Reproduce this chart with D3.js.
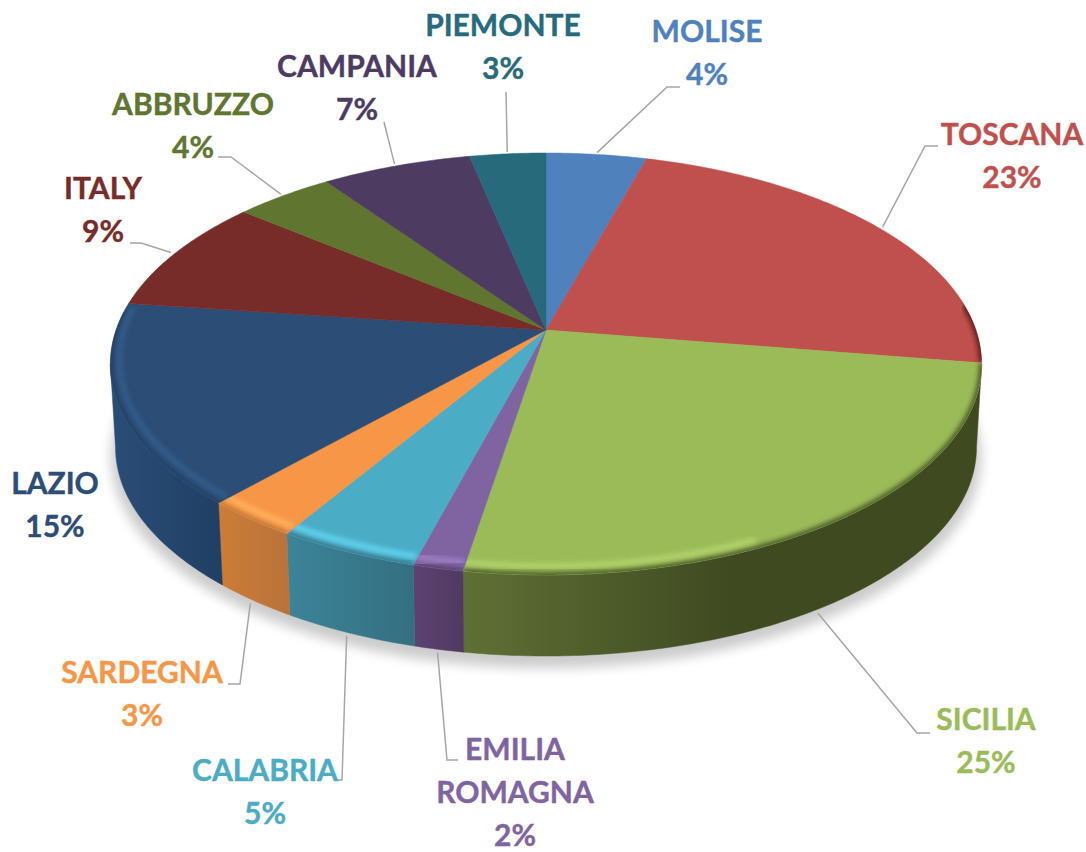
<!DOCTYPE html>
<html>
<head>
    <meta charset="utf-8"/>
    <style>
        html, body { margin: 0; padding: 0; background: #fff; }
        svg { display: block; }
        text { font-family: Lato, "Open Sans", sans-serif; font-weight: 700; font-size: 30px; text-anchor: middle; stroke-width: 0.4px; }
        .leader { fill: none; stroke: #a6a6a6; stroke-width: 1.5px; }
    </style>
</head>
<body>
<svg id="chart"></svg>
<script src="https://d3js.org/d3.v7.min.js"></script>
<script>
    // Data
    const regions = ['MOLISE', 'TOSCANA', 'SICILIA', 'EMILIA ROMAGNA', 'CALABRIA', 'SARDEGNA', 'LAZIO', 'ITALY', 'ABBRUZZO', 'CAMPANIA', 'PIEMONTE'];
    const shares = [4.35, 23.15, 25.1, 1.6, 4.5, 3.0, 15.4, 8.8, 4.3, 6.5, 3.3];
    const shareLabels = ['4%', '23%', '25%', '2%', '5%', '3%', '15%', '9%', '4%', '7%', '3%'];

    // Colours per slice
    const topColors = ['#4f81bd', '#c0504d', '#9bbb59', '#8064a2', '#4bacc6', '#f79646', '#2c4d75', '#772c2a', '#5f7530', '#4d3b62', '#276a7c'];
    const wallFrom = ['#3a5f8c', '#5c2422', '#5f7035', '#5c4272', '#3c8499', '#cc7d37', '#2a4d77', '#551f1e', '#46561f', '#382b48', '#1c4d5a'];
    const wallTo = ['#3a5f8c', '#5c2422', '#3f4a21', '#503a60', '#346f80', '#b8733a', '#203f63', '#551f1e', '#46561f', '#382b48', '#1c4d5a'];
    const glowColors = [null, null, '#b5d56e', '#a283c8', '#66d8f4', '#ffb562', '#345e8f', null, null, null, null];

    // Label layout: centre x, first baseline y, leader elbow and leader end
    const labelX = [707, 1012, 986, 515, 265, 142, 55, 103, 193, 357, 503];
    const labelY = [42, 145, 730, 760, 781, 683, 494, 199, 115, 77, 36];
    const leaderEnds = [
        [[667, 87], [680, 87]], [[925, 146], [938, 146]], [[917, 733], [930, 733]],
        [[447, 760], [458, 760]], [[342, 780], [336, 780]], [[240, 684], [228, 684]],
        null, [[141, 243], [130, 243]], [[231, 157], [218, 157]],
        [[384, 122]], [[506, 92]]
    ];
    // where along its slice each leader leaves the rim
    const leaderAt = [0.5, 0.5, 0.53, 0.5, 0.5, 0.5, 0.5, 0.5, 0.5, 0.5, 0.5];
    const lineGap = 43;

    const width = 1086, height = 852;
    const cx = 546, cy = 330, rx = 430, ry = 205.5, persp = -0.161, depth = 84, shrink = 0.012;

    // Tilted disc with a little perspective, angle 0 at the top and clockwise.
    // The underside sits further away, so it comes out a bit smaller.
    function project(angle, r, z) {
        const u = r * Math.sin(angle), v = -r * Math.cos(angle);
        const w = 1 + persp * v;
        const far = 1 - shrink * Math.max(z, 0) / depth;
        return [cx + far * rx * u / w, cy + far * ry * v / w + z];
    }
    function rim(a0, a1, r, z) {
        const n = Math.max(2, Math.ceil((a1 - a0) / 0.01));
        return d3.range(n + 1).map(i => project(a0 + (a1 - a0) * i / n, r, z));
    }

    const line = d3.line();
    const slices = d3.pie().sort(null).value((d, i) => shares[i])(regions);
    const quarter = Math.PI / 2;
    // angles where the disc reaches its left and right extremes
    const sideRight = quarter + Math.asin(-persp), sideLeft = 3 * quarter - Math.asin(-persp);

    const svg = d3.select('#chart').attr('width', width).attr('height', height);
    const defs = svg.append('defs');
    defs.append('filter').attr('id', 'shadowBlur').attr('x', '-10%').attr('y', '-10%').attr('width', '120%').attr('height', '120%')
        .append('feGaussianBlur').attr('stdDeviation', 6);
    defs.append('filter').attr('id', 'rimBlur').attr('x', '-10%').attr('y', '-10%').attr('width', '120%').attr('height', '120%')
        .append('feGaussianBlur').attr('stdDeviation', 2.6);

    // Drop shadow below the pie
    svg.append('path')
        .attr('d', line(rim(0, 2 * Math.PI, 1.012, depth + 9)) + 'Z')
        .attr('fill', '#000').attr('opacity', 0.2)
        .attr('filter', 'url(#shadowBlur)');

    // Side wall, only the front part shows
    slices.forEach((s, i) => {
        const a0 = Math.max(s.startAngle, sideRight), a1 = Math.min(s.endAngle, sideLeft);
        if (a1 <= a0) return;
        const upper = rim(a0, a1, 1, 0), lower = rim(a0, a1, 1, depth).reverse();
        const xs = d3.extent(upper.concat(lower), d => d[0]);
        // the wall darkens from the left to the right of each slice
        const grad = defs.append('linearGradient').attr('id', 'wall' + i)
            .attr('gradientUnits', 'userSpaceOnUse')
            .attr('x1', xs[0]).attr('x2', xs[1]).attr('y1', 0).attr('y2', 0);
        grad.append('stop').attr('offset', 0).attr('stop-color', wallFrom[i]);
        grad.append('stop').attr('offset', i === 2 ? 0.52 : 1).attr('stop-color', wallTo[i]);
        svg.append('path')
            .attr('d', line(upper.concat(lower)) + 'Z')
            .attr('fill', 'url(#wall' + i + ')')
            .attr('stroke', 'url(#wall' + i + ')').attr('stroke-width', 0.5);
    });

    // Top face
    slices.forEach((s, i) => {
        const face = [[cx, cy]].concat(rim(s.startAngle, s.endAngle, 1, 0));
        const d = line(face) + 'Z';
        svg.append('path').attr('d', d).attr('fill', topColors[i])
            .attr('stroke', topColors[i]).attr('stroke-width', 0.5);
        defs.append('clipPath').attr('id', 'face' + i).append('path').attr('d', d);

        // Bevel along the front edge of the face
        const a0 = Math.max(s.startAngle, 0.46 * Math.PI), a1 = Math.min(s.endAngle, 3 * quarter + 0.1);
        if (a1 <= a0) return;
        const bevel = svg.append('g').attr('clip-path', 'url(#face' + i + ')');
        bevel.append('path')
            .attr('d', line(rim(a0, a1, 1, 0)))
            .attr('fill', 'none')
            .attr('stroke', i === 1 ? '#4a1615' : wallTo[i]).attr('stroke-width', 5)
            .attr('filter', 'url(#rimBlur)');
        if (glowColors[i]) {
            const g0 = i === 2 ? Math.max(a0, Math.PI * 0.86) : a0;
            bevel.append('path')
                .attr('d', line(rim(g0, a1, 0.98, -3)))
                .attr('fill', 'none')
                .attr('stroke', glowColors[i]).attr('stroke-width', 5)
                .attr('filter', 'url(#rimBlur)');
        }
    });

    // Leader lines start just off the rim of each slice
    slices.forEach((s, i) => {
        if (!leaderEnds[i]) return;
        const mid = s.startAngle + (s.endAngle - s.startAngle) * leaderAt[i];
        const front = Math.cos(mid) < 0;
        const start = project(mid, 1.012, front ? depth : 0);
        svg.append('path').attr('class', 'leader').attr('d', line([start].concat(leaderEnds[i])));
    });

    // Labels
    regions.forEach((name, i) => {
        const rows = name.split(' ').concat(shareLabels[i]);
        const label = svg.append('text').attr('fill', topColors[i]).attr('stroke', topColors[i]);
        rows.forEach((row, j) => {
            label.append('tspan').attr('x', labelX[i]).attr('y', labelY[i] + j * lineGap).text(row);
        });
    });
</script>
</body>
</html>
